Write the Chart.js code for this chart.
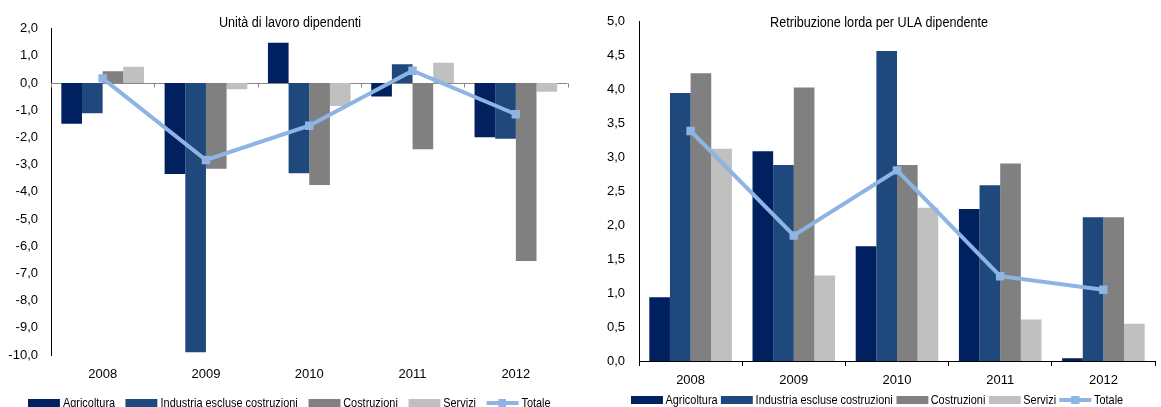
<!DOCTYPE html>
<html>
<head>
<meta charset="utf-8">
<script src="https://cdn.jsdelivr.net/npm/chart.js@4/dist/chart.umd.min.js"></script>
<style>
html,body{margin:0;padding:0;background:#fff;}
body{width:1161px;height:407px;position:relative;overflow:hidden;font-family:"Liberation Sans",Arial,sans-serif;}
canvas{position:absolute;top:0;}
#c1{left:0;}
#c2{left:580px;}
.legend{position:absolute;display:flex;align-items:center;font-size:13px;line-height:14px;color:#000;white-space:nowrap;transform:scaleX(0.84);transform-origin:0 50%;}
.legend .item{display:flex;align-items:center;}
.legend .sw{width:38px;height:8px;}
.legend .ln{width:38px;height:4px;position:relative;}
.legend .ln span{position:absolute;left:14px;top:-2px;width:9.5px;height:8px;}
#lg1{left:28px;top:396px;}
#lg1 .item{margin-right:12.5px;}
#lg1 .sw,#lg1 .ln{margin-right:3.6px;}
#lg2{left:631px;top:393px;}
#lg2 .item{margin-right:4.2px;}
#lg2 .sw,#lg2 .ln{margin-right:3px;}
</style>
</head>
<body>
<canvas id="c1" width="580" height="407"></canvas>
<canvas id="c2" width="581" height="407"></canvas>
<div class="legend" id="lg1"></div>
<div class="legend" id="lg2"></div>
<script>
// ---- data ----
const categories = ['2008', '2009', '2010', '2011', '2012'];
const seriesNames = ['Agricoltura', 'Industria escluse costruzioni', 'Costruzioni', 'Servizi', 'Totale'];
const titleLeft = 'Unità di lavoro dipendenti';
const titleRight = 'Retribuzione lorda per ULA dipendente';

const ulaAgricoltura = [-1.50, -3.35, 1.48, -0.50, -1.99];
const ulaIndustria   = [-1.11, -9.90, -3.32, 0.69, -2.05];
const ulaCostruzioni = [0.43, -3.15, -3.75, -2.44, -6.54];
const ulaServizi     = [0.60, -0.23, -0.85, 0.74, -0.32];
const ulaTotale      = [0.17, -2.83, -1.57, 0.45, -1.15];

const retAgricoltura = [0.94, 3.09, 1.69, 2.24, 0.04];
const retIndustria   = [3.95, 2.89, 4.57, 2.59, 2.12];
const retCostruzioni = [4.24, 4.03, 2.89, 2.91, 2.12];
const retServizi     = [3.13, 1.26, 2.26, 0.61, 0.55];
const retTotale      = [3.39, 1.85, 2.81, 1.25, 1.05];

const leftTickRange = [-10, 2, 1];   // min, max, step
const rightTickRange = [0, 5, 0.5];

// ---- styles ----
const colors = ['#002060', '#1F497D', '#808080', '#C0C0C0', '#8DB4E2'];
const FONT = '"Liberation Sans",Arial,sans-serif';
const fmt = v => Number(v).toFixed(1).replace('.', ',');

const titlePlugin = {
  id: 'innerTitle',
  afterDraw(chart, args, o) {
    if (!o.text) return;
    const ctx = chart.ctx;
    ctx.save();
    ctx.font = o.size + 'px ' + FONT;
    ctx.fillStyle = '#000';
    ctx.textAlign = 'center';
    ctx.textBaseline = 'middle';
    ctx.translate(o.x, o.y);
    ctx.scale(o.stretch, 1);
    ctx.fillText(o.text, 0, 0);
    ctx.restore();
  }
};

const zeroLinePlugin = {
  id: 'zeroLine',
  beforeDatasetsDraw(chart, args, o) {
    if (!o.enabled) return;
    const {ctx, chartArea, scales: {x, y}} = chart;
    const yz = Math.round(y.getPixelForValue(0)) + 0.5;
    ctx.save();
    ctx.strokeStyle = o.color;
    ctx.lineWidth = 1;
    ctx.beginPath();
    ctx.moveTo(chartArea.left, yz);
    ctx.lineTo(chartArea.right, yz);
    for (let i = 0; i <= categories.length; i++) {
      const px = Math.round(x.getPixelForValue(i - 0.5)) + 0.5;
      ctx.moveTo(px, yz);
      ctx.lineTo(px, yz + o.tick);
    }
    ctx.stroke();
    ctx.restore();
  }
};

function makeDatasets(a, b, c, d, t) {
  const bars = [a, b, c, d].map((vals, i) => ({
    type: 'bar', label: seriesNames[i], data: vals,
    backgroundColor: colors[i], borderWidth: 0, order: 1,
    categoryPercentage: 0.8, barPercentage: 1.0
  }));
  bars.push({
    type: 'line', label: seriesNames[4], data: t,
    borderColor: colors[4], backgroundColor: colors[4],
    borderWidth: 4, pointStyle: 'rect', pointRadius: 6, pointHoverRadius: 6,
    pointBorderWidth: 0, tension: 0, order: 0
  });
  return bars;
}

function makeChart(id, cfg) {
  return new Chart(document.getElementById(id), {
    data: { labels: categories, datasets: cfg.datasets },
    options: {
      responsive: false, animation: false, devicePixelRatio: 1,
      layout: { padding: cfg.padding },
      plugins: {
        legend: { display: false }, tooltip: { enabled: false },
        innerTitle: cfg.title, zeroLine: cfg.zero
      },
      scales: {
        x: {
          afterFit: s => { s.height = cfg.xHeight; },
          grid: cfg.xGrid,
          border: cfg.xBorder,
          ticks: { color: '#000', padding: cfg.xPad, font: { family: FONT, size: 13 }, maxRotation: 0 }
        },
        y: {
          min: cfg.range[0], max: cfg.range[1],
          afterFit: s => { s.width = cfg.yWidth; },
          grid: { display: false, drawTicks: false },
          border: { display: true, color: '#000', width: 1 },
          ticks: { stepSize: cfg.range[2], color: '#000', padding: cfg.yPad,
                   font: { family: FONT, size: 13 }, callback: v => fmt(v) }
        }
      }
    },
    plugins: [titlePlugin, zeroLinePlugin]
  });
}

makeChart('c1', {
  datasets: makeDatasets(ulaAgricoltura, ulaIndustria, ulaCostruzioni, ulaServizi, ulaTotale),
  padding: { left: 0, right: 12.5, top: 28.6, bottom: 0 },
  xHeight: 52, yWidth: 51, range: leftTickRange, yPad: 13, xPad: 12,
  xGrid: { display: false, drawTicks: false },
  xBorder: { display: false },
  title: { text: titleLeft, x: 290, y: 23, size: 14, stretch: 0.9 },
  zero: { enabled: true, color: '#868686', tick: 4 }
});

makeChart('c2', {
  datasets: makeDatasets(retAgricoltura, retIndustria, retCostruzioni, retServizi, retTotale),
  padding: { left: 0, right: 5.3, top: 19, bottom: 0 },
  xHeight: 46, yWidth: 59, range: rightTickRange, yPad: 14, xPad: 7,
  xGrid: { display: true, drawOnChartArea: false, drawTicks: true, tickLength: 5, color: '#000', offset: true },
  xBorder: { display: true, color: '#000', width: 1 },
  title: { text: titleRight, x: 299, y: 23, size: 14, stretch: 0.9 },
  zero: { enabled: false }
});

function buildLegend(id) {
  const el = document.getElementById(id);
  seriesNames.forEach((name, i) => {
    const item = document.createElement('div');
    item.className = 'item';
    const sw = document.createElement('div');
    if (i < 4) {
      sw.className = 'sw';
      sw.style.background = colors[i];
    } else {
      sw.className = 'ln';
      sw.style.background = colors[i];
      const sq = document.createElement('span');
      sq.style.background = colors[i];
      sw.appendChild(sq);
    }
    const tx = document.createElement('span');
    tx.textContent = name;
    item.appendChild(sw);
    item.appendChild(tx);
    el.appendChild(item);
  });
}
buildLegend('lg1');
buildLegend('lg2');
</script>
</body>
</html>
